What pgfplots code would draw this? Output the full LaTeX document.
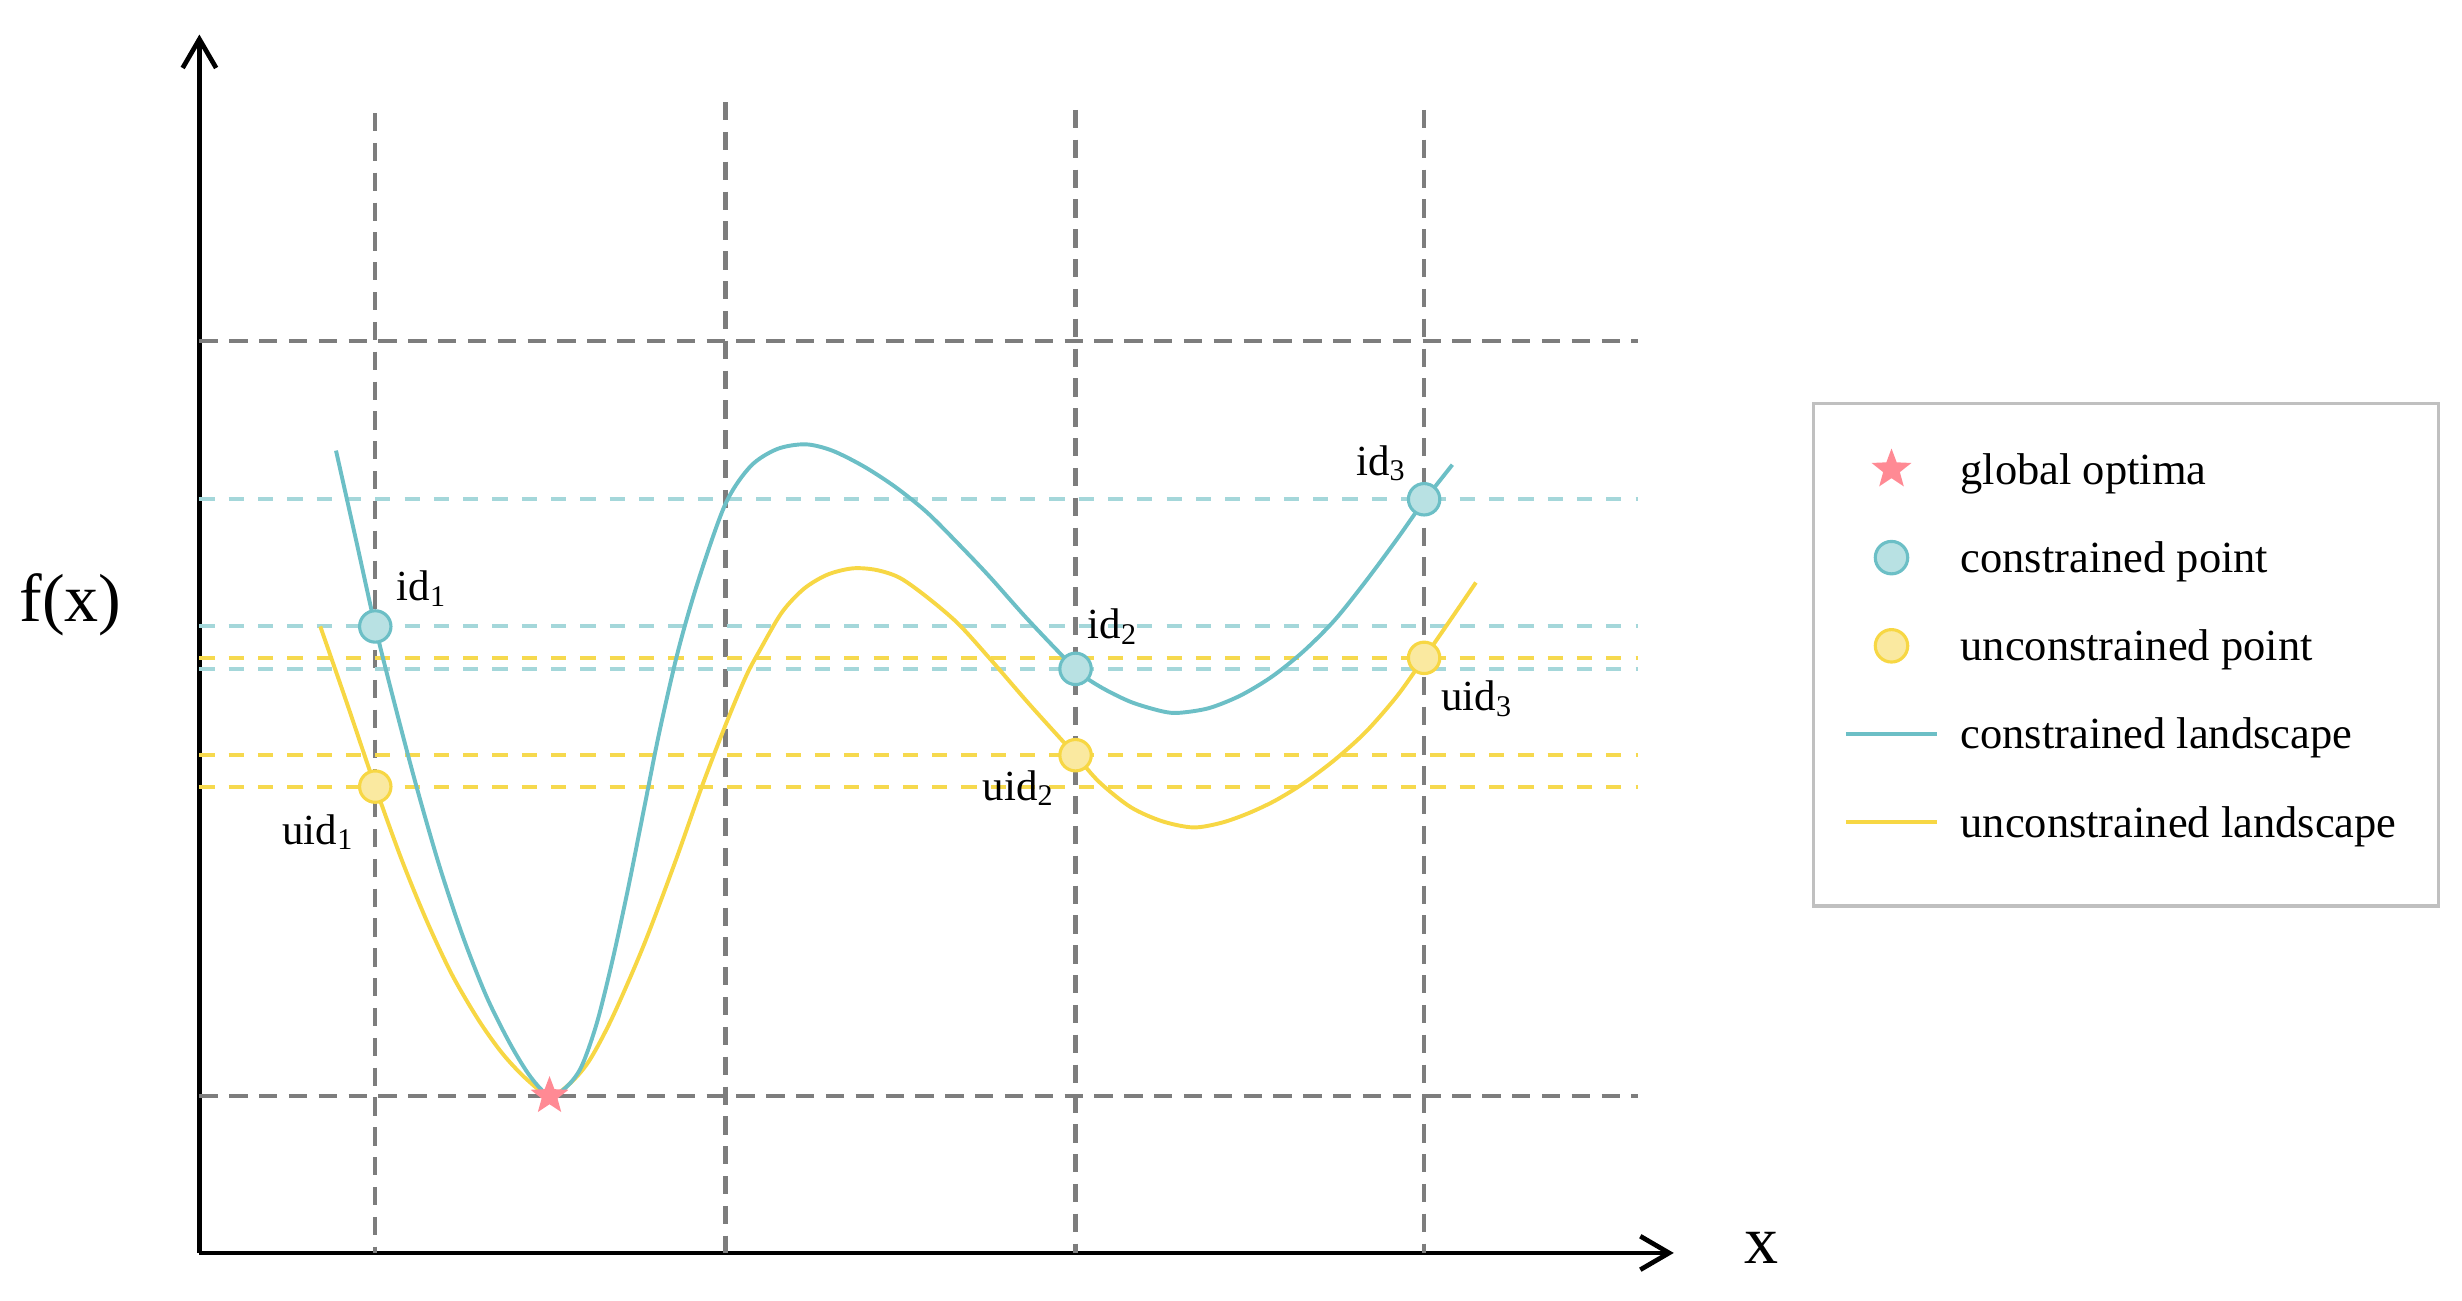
\documentclass[border=0pt]{standalone}
\usepackage{fontspec}
\setmainfont{Liberation Serif}
\usepackage{pgfplots}
\pgfplotsset{compat=1.18}
\usetikzlibrary{arrows.meta}

\definecolor{tealline}{RGB}{108,191,198}
\definecolor{tealdash}{RGB}{164,215,218}
\definecolor{tealfill}{RGB}{184,225,227}
\definecolor{yelline}{RGB}{247,215,68}
\definecolor{yeldash}{RGB}{246,217,78}
\definecolor{yelfill}{RGB}{250,233,160}
\definecolor{gridgray}{RGB}{125,125,125}
\definecolor{starpink}{RGB}{255,138,148}
\definecolor{boxgray}{RGB}{192,192,192}

% filled five-pointed star
\pgfdeclareplotmark{fstar}{%
  \pgfpathmoveto{\pgfpointpolar{90}{\pgfplotmarksize}}%
  \pgfpathlineto{\pgfpointpolar{126}{0.42\pgfplotmarksize}}%
  \pgfpathlineto{\pgfpointpolar{162}{\pgfplotmarksize}}%
  \pgfpathlineto{\pgfpointpolar{198}{0.42\pgfplotmarksize}}%
  \pgfpathlineto{\pgfpointpolar{234}{\pgfplotmarksize}}%
  \pgfpathlineto{\pgfpointpolar{270}{0.42\pgfplotmarksize}}%
  \pgfpathlineto{\pgfpointpolar{306}{\pgfplotmarksize}}%
  \pgfpathlineto{\pgfpointpolar{342}{0.42\pgfplotmarksize}}%
  \pgfpathlineto{\pgfpointpolar{18}{\pgfplotmarksize}}%
  \pgfpathlineto{\pgfpointpolar{54}{0.42\pgfplotmarksize}}%
  \pgfpathclose
  \pgfusepathqfill
}

\pgfplotsset{
  griddash/.style={forget plot, gridgray, line width=0.8pt, dash pattern=on 3.5pt off 2.2pt},
  tdash/.style={forget plot, tealdash, line width=0.75pt, dash pattern=on 2.9pt off 2.7pt},
  ydash/.style={forget plot, yeldash, line width=0.75pt, dash pattern=on 2.9pt off 2.7pt},
  markimg/.style={legend image code/.code={%
      \path[draw=none,fill=none] (0pt,-1pt) rectangle (21.9pt,5pt);
      \begin{pgfinterruptboundingbox}
      \draw[##1] plot coordinates {(8.7pt,0.85pt)};
      \end{pgfinterruptboundingbox}}},
  lineimg/.style={legend image code/.code={%
      \path[draw=none,fill=none] (0pt,-1pt) rectangle (21.9pt,5pt);
      \begin{pgfinterruptboundingbox}
      \draw[##1] (0pt,0.85pt) -- (17.4pt,0.85pt);
      \end{pgfinterruptboundingbox}}},
}

\begin{document}
\begin{tikzpicture}
\begin{axis}[
  x=0.3pt, y=0.3pt,
  xmin=127, xmax=1066, ymin=30, ymax=806,
  axis x line=bottom, axis y line=left,
  axis line style={line width=0.9pt, -{Straight Barb[length=5.5pt,width=6.4pt]}},
  xtick=\empty, ytick=\empty,
  clip=false,
  legend style={at={(axis cs:1175,543.5)}, anchor=north west,
    draw=none, fill=none, inner sep=0pt, row sep=7.85pt,
    font=\fontsize{8.5}{10}\selectfont,
    nodes={inner sep=0pt, text height=6pt, text depth=2pt}},
  legend cell align=left,
]
% invisible frame for the full picture size
\path (axis cs:0,0) rectangle (axis cs:1568,828);

% gray reference lines
\addplot[griddash] coordinates {(127,611) (1043,611)};
\addplot[griddash] coordinates {(127,130) (1043,130)};
\addplot[griddash] coordinates {(239,756) (239,30)};
\addplot[griddash] coordinates {(462,763) (462,30)};
\addplot[griddash] coordinates {(685,758) (685,30)};
\addplot[griddash] coordinates {(907,758) (907,30)};

% levels of the constrained points
\addplot[tdash] coordinates {(127,510) (1043,510)};
\addplot[tdash] coordinates {(127,429) (1043,429)};
\addplot[tdash] coordinates {(127,402) (1043,402)};
% levels of the unconstrained points
\addplot[ydash] coordinates {(127,409) (1043,409)};
\addplot[ydash] coordinates {(127,347) (1043,347)};
\addplot[ydash] coordinates {(127,327) (1043,327)};

% unconstrained landscape
\addplot[forget plot, yelline, line width=0.75pt, smooth] coordinates {
  (204,429) (221,380) (239,327) (256,280) (272,241) (288,207) (305,178)
  (320,157) (335,141) (350,130) (362,137) (375,152) (390,180) (410,226)
  (430,279) (447,327) (462,366) (475,397) (484,414) (498,438) (512,453)
  (527,462) (543,466) (558,465) (573,460) (590,448) (610,431) (630,409)
  (656,379) (685,347) (700,330) (720,314) (740,305) (760,301) (778,304)
  (795,310) (812,318) (830,329) (850,344) (870,362) (890,385) (907,409)
  (925,435) (940,457)
};
% constrained landscape
\addplot[forget plot, tealline, line width=0.75pt, smooth] coordinates {
  (214,541) (227,483) (239,429) (251,381) (265,328) (280,276) (295,231)
  (310,193) (325,163) (338,142) (350,130) (360,135) (370,148) (380,176)
  (390,216) (400,262) (410,312) (420,362) (432,414) (445,459) (462,507)
  (478,531) (495,542) (513,545) (530,541) (550,531) (570,518) (590,502)
  (610,482) (630,461) (655,433) (685,402) (700,391) (720,381) (740,375)
  (751,374) (770,377) (790,385) (810,397) (830,413) (850,433) (870,458)
  (890,485) (907,509) (925,532)
};

% points
\addplot[forget plot, only marks, mark=*, mark size=3pt,
  mark options={fill=yelfill, draw=yelline, line width=0.6pt}]
  coordinates {(239,327) (685,347) (907,409)};
\addplot[forget plot, only marks, mark=*, mark size=3pt,
  mark options={fill=tealfill, draw=tealline, line width=0.6pt}]
  coordinates {(239,429) (685,402) (907,510)};
\addplot[forget plot, only marks, mark=fstar, mark size=3.8pt, starpink]
  coordinates {(350,130)};

% legend
\addlegendimage{markimg, only marks, mark=fstar, mark size=4pt, starpink}
\addlegendentry{global optima}
\addlegendimage{markimg, only marks, mark=*, mark size=3.1pt,
  mark options={fill=tealfill, draw=tealline, line width=0.6pt}}
\addlegendentry{constrained point}
\addlegendimage{markimg, only marks, mark=*, mark size=3.1pt,
  mark options={fill=yelfill, draw=yelline, line width=0.6pt}}
\addlegendentry{unconstrained point}
\addlegendimage{lineimg, tealline, line width=0.8pt}
\addlegendentry{constrained landscape}
\addlegendimage{lineimg, yelline, line width=0.8pt}
\addlegendentry{unconstrained landscape}

\draw[boxgray, line width=0.7pt] (axis cs:1155,571) rectangle (axis cs:1553,251);

% labels
\begin{scope}[font=\fontsize{8.2}{10}\selectfont]
\node at (axis cs:269,453) {id\textsubscript{1}};
\node at (axis cs:203,298) {uid\textsubscript{1}};
\node at (axis cs:709,429) {id\textsubscript{2}};
\node at (axis cs:649,326) {uid\textsubscript{2}};
\node at (axis cs:880,533) {id\textsubscript{3}};
\node at (axis cs:941,383) {uid\textsubscript{3}};
\end{scope}
\node[font=\fontsize{13}{15}\selectfont] at (axis cs:45,443) {f(x)};
\node[font=\fontsize{13}{15}\selectfont] at (axis cs:1122,33) {x};
\end{axis}
\end{tikzpicture}
\end{document}
